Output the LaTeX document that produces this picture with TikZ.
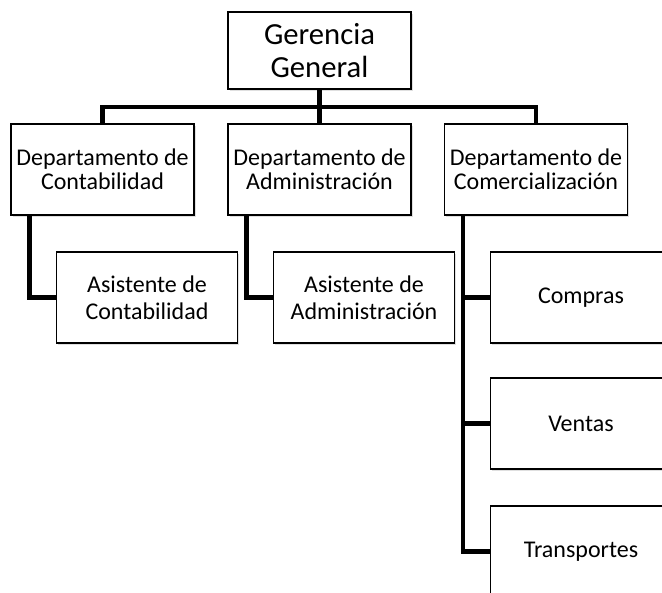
\documentclass[tikz,border=0pt]{standalone}
\usepackage{fontspec}
\setmainfont{Carlito}
\usetikzlibrary{shadows}

\tikzset{every picture/.style={line width=0.75pt}}
\tikzset{
  cajon/.style={draw, line width=1pt, fill=white, align=center, inner sep=0pt,
    drop shadow={opacity=0.25, shadow xshift=1.2pt, shadow yshift=-1.2pt}},
  gerencia/.style={cajon, minimum width=137.25pt, minimum height=57.75pt, font=\fontsize{23}{24.5}\selectfont},
  depto/.style={cajon, minimum width=137.25pt, minimum height=68.25pt, font=\fontsize{18}{18}\selectfont},
  asist/.style={cajon, minimum width=135.75pt, minimum height=68.25pt, font=\fontsize{18}{20}\selectfont},
  conector/.style={line width=3.4pt}
}

\begin{document}
\begin{tikzpicture}[x=0.75pt,y=0.75pt,yscale=-1,xscale=1]
%set diagram left start at 0, and has height of 593
\useasboundingbox (0,0) rectangle (662,593);
\clip (0,0) rectangle (662,593);

% Text Node
\draw (319.5,50.5) node [gerencia] (gg) {Gerencia\\General};
% Text Node
\draw (102.5,169.5) node [depto] (dcont) {Departamento de\\Contabilidad};
% Text Node
\draw (319.5,169.5) node [depto] (dadm) {Departamento de\\Administración};
% Text Node
\draw (536,169.5) node [depto] (dcom) {Departamento de\\Comercialización};
% Text Node
\draw (147,297.5) node [asist] (acont) {Asistente de\\Contabilidad};
% Text Node
\draw (364,297.5) node [asist] (aadm) {Asistente de\\Administración};
% Text Node
\draw (581,297.5) node [asist] (compras) {Compras};
% Text Node
\draw (581,423.5) node [asist] (ventas) {Ventas};
% Text Node
\draw (581,551.5) node [asist] (transp) {Transportes};

\coordinate (bus) at (319.5,107);
\coordinate (tcont) at ([xshift=14.5pt]dcont.south west);
\coordinate (tadm) at ([xshift=14.5pt]dadm.south west);
\coordinate (tcom) at ([xshift=14.5pt]dcom.south west);

%Straight Lines
\draw [conector] (gg) -- (bus) ;
\draw [conector] (dcont.north) |- (bus) -| (dcom.north) ;
\draw [conector] (bus) -- (dadm) ;
%Straight Lines
\draw [conector] (tcont) |- (acont.west) ;
\draw [conector] (tadm) |- (aadm.west) ;
%Straight Lines
\draw [conector] (tcom) |- (transp.west) ;
\draw [conector] (tcom |- compras.west) -- (compras.west) ;
\draw [conector] (tcom |- ventas.west) -- (ventas.west) ;

\end{tikzpicture}
\end{document}
